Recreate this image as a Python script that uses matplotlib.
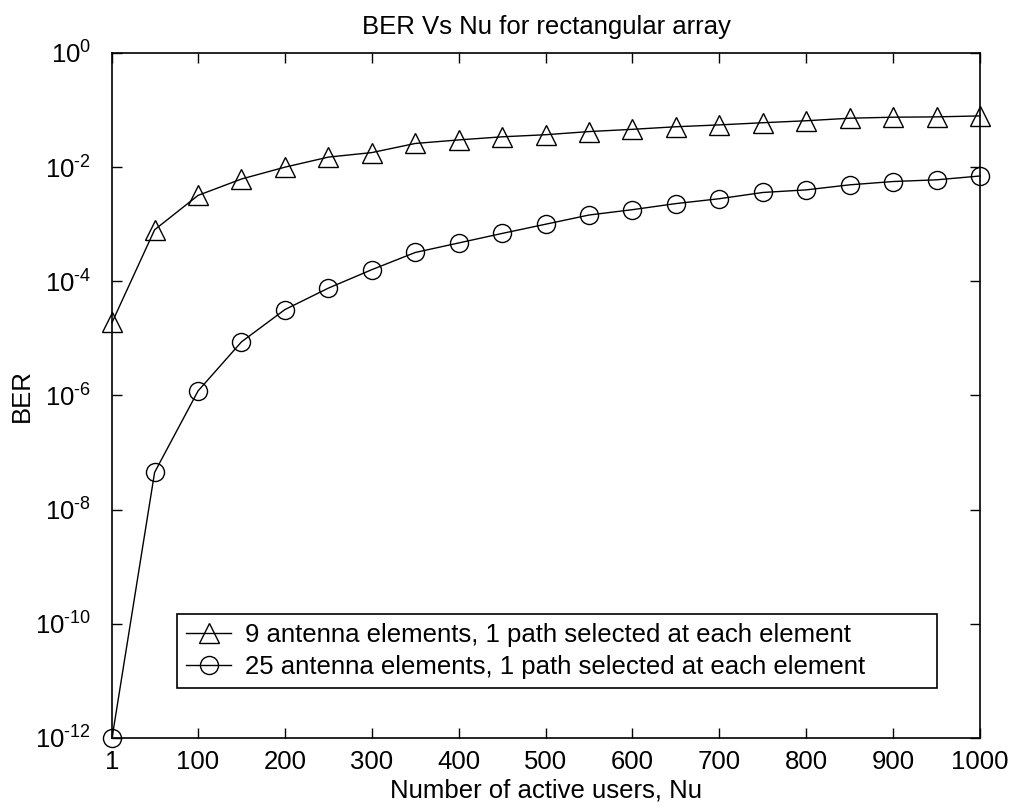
import matplotlib
matplotlib.use("Agg")
import matplotlib.pyplot as plt
import numpy as np
from matplotlib.ticker import FixedLocator, NullLocator, FixedFormatter

plt.rcParams['font.family'] = ['Liberation Sans', 'DejaVu Sans']
plt.rcParams['mathtext.fontset'] = 'custom'
plt.rcParams['mathtext.rm'] = 'Liberation Sans'
plt.rcParams['mathtext.it'] = 'Liberation Sans'

nu = [1, 50, 100, 150, 200, 250, 300, 350, 400, 450, 500,
      550, 600, 650, 700, 750, 800, 850, 900, 950, 1000]
ber_9 = [1.9e-5, 8e-4, 3.2e-3, 6.2e-3, 1.0e-2, 1.5e-2, 1.8e-2, 2.6e-2, 3.0e-2, 3.4e-2, 3.7e-2,
         4.2e-2, 4.6e-2, 5.1e-2, 5.5e-2, 6.0e-2, 6.5e-2, 7.2e-2, 7.5e-2, 7.6e-2, 7.9e-2]
ber_25 = [1e-12, 4.5e-8, 1.2e-6, 8.7e-6, 3.2e-5, 7.6e-5, 1.6e-4, 3.2e-4, 4.7e-4, 6.9e-4, 1.0e-3,
          1.45e-3, 1.8e-3, 2.3e-3, 2.8e-3, 3.6e-3, 4.0e-3, 4.9e-3, 5.6e-3, 6.0e-3, 7.0e-3]
label_9 = '9 antenna elements, 1 path selected at each element'
label_25 = '25 antenna elements, 1 path selected at each element'
xticks = [1, 100, 200, 300, 400, 500, 600, 700, 800, 900, 1000]
y_exponents = [-12, -10, -8, -6, -4, -2, 0]
yticks = [10.0 ** e for e in y_exponents]
ytick_labels = [r'$\mathdefault{10^{\text{%s}}}$' % ('-%d' % -e if e < 0 else '%d' % e)
                for e in y_exponents]

fs = 18.5
fig = plt.figure(figsize=(10.13, 8.09), dpi=100)
ax = fig.add_axes([0.1106, 0.0878, 0.8568, 0.8467])

ax.plot(nu, ber_9, color='black', lw=1.0, marker='^', ms=14, mfc='none', mec='black',
        mew=1.0, label=label_9, clip_on=False)
ax.plot(nu, ber_25, color='black', lw=1.0, marker='o', ms=13, mfc='none', mec='black',
        mew=1.0, label=label_25, clip_on=False)

ax.set_yscale('log')
ax.set_xlim(1, 1000)
ax.set_ylim(1e-12, 1e0)
ax.xaxis.set_major_locator(FixedLocator(xticks))
ax.set_xticklabels([str(t) for t in xticks])
ax.yaxis.set_major_locator(FixedLocator(yticks))
ax.yaxis.set_major_formatter(FixedFormatter(ytick_labels))
ax.yaxis.set_minor_locator(NullLocator())
ax.tick_params(which='both', direction='in', top=True, right=True, length=7, width=1.0,
               labelsize=fs, colors='black')
ax.tick_params(axis='x', pad=9)
ax.tick_params(axis='y', pad=15)
for s in ax.spines.values():
    s.set_linewidth(1.2)

ax.set_title('BER Vs Nu for rectangular array', fontsize=fs, pad=14)
ax.set_xlabel('Number of active users, Nu', fontsize=fs, labelpad=3)
ax.set_ylabel('BER', fontsize=fs, va='center')
ax.yaxis.set_label_coords(-0.104, 0.5)

leg = ax.legend(loc='lower left', bbox_to_anchor=(0.0749, 0.073, 0.8755, 0.108), mode='expand',
                numpoints=1, fontsize=fs, fancybox=False, edgecolor='black', framealpha=1,
                handlelength=1.75, handletextpad=0.55, borderpad=0.35, labelspacing=0.3,
                borderaxespad=0)
leg.get_frame().set_linewidth(1.2)

fig.savefig('out.png', dpi=100)
